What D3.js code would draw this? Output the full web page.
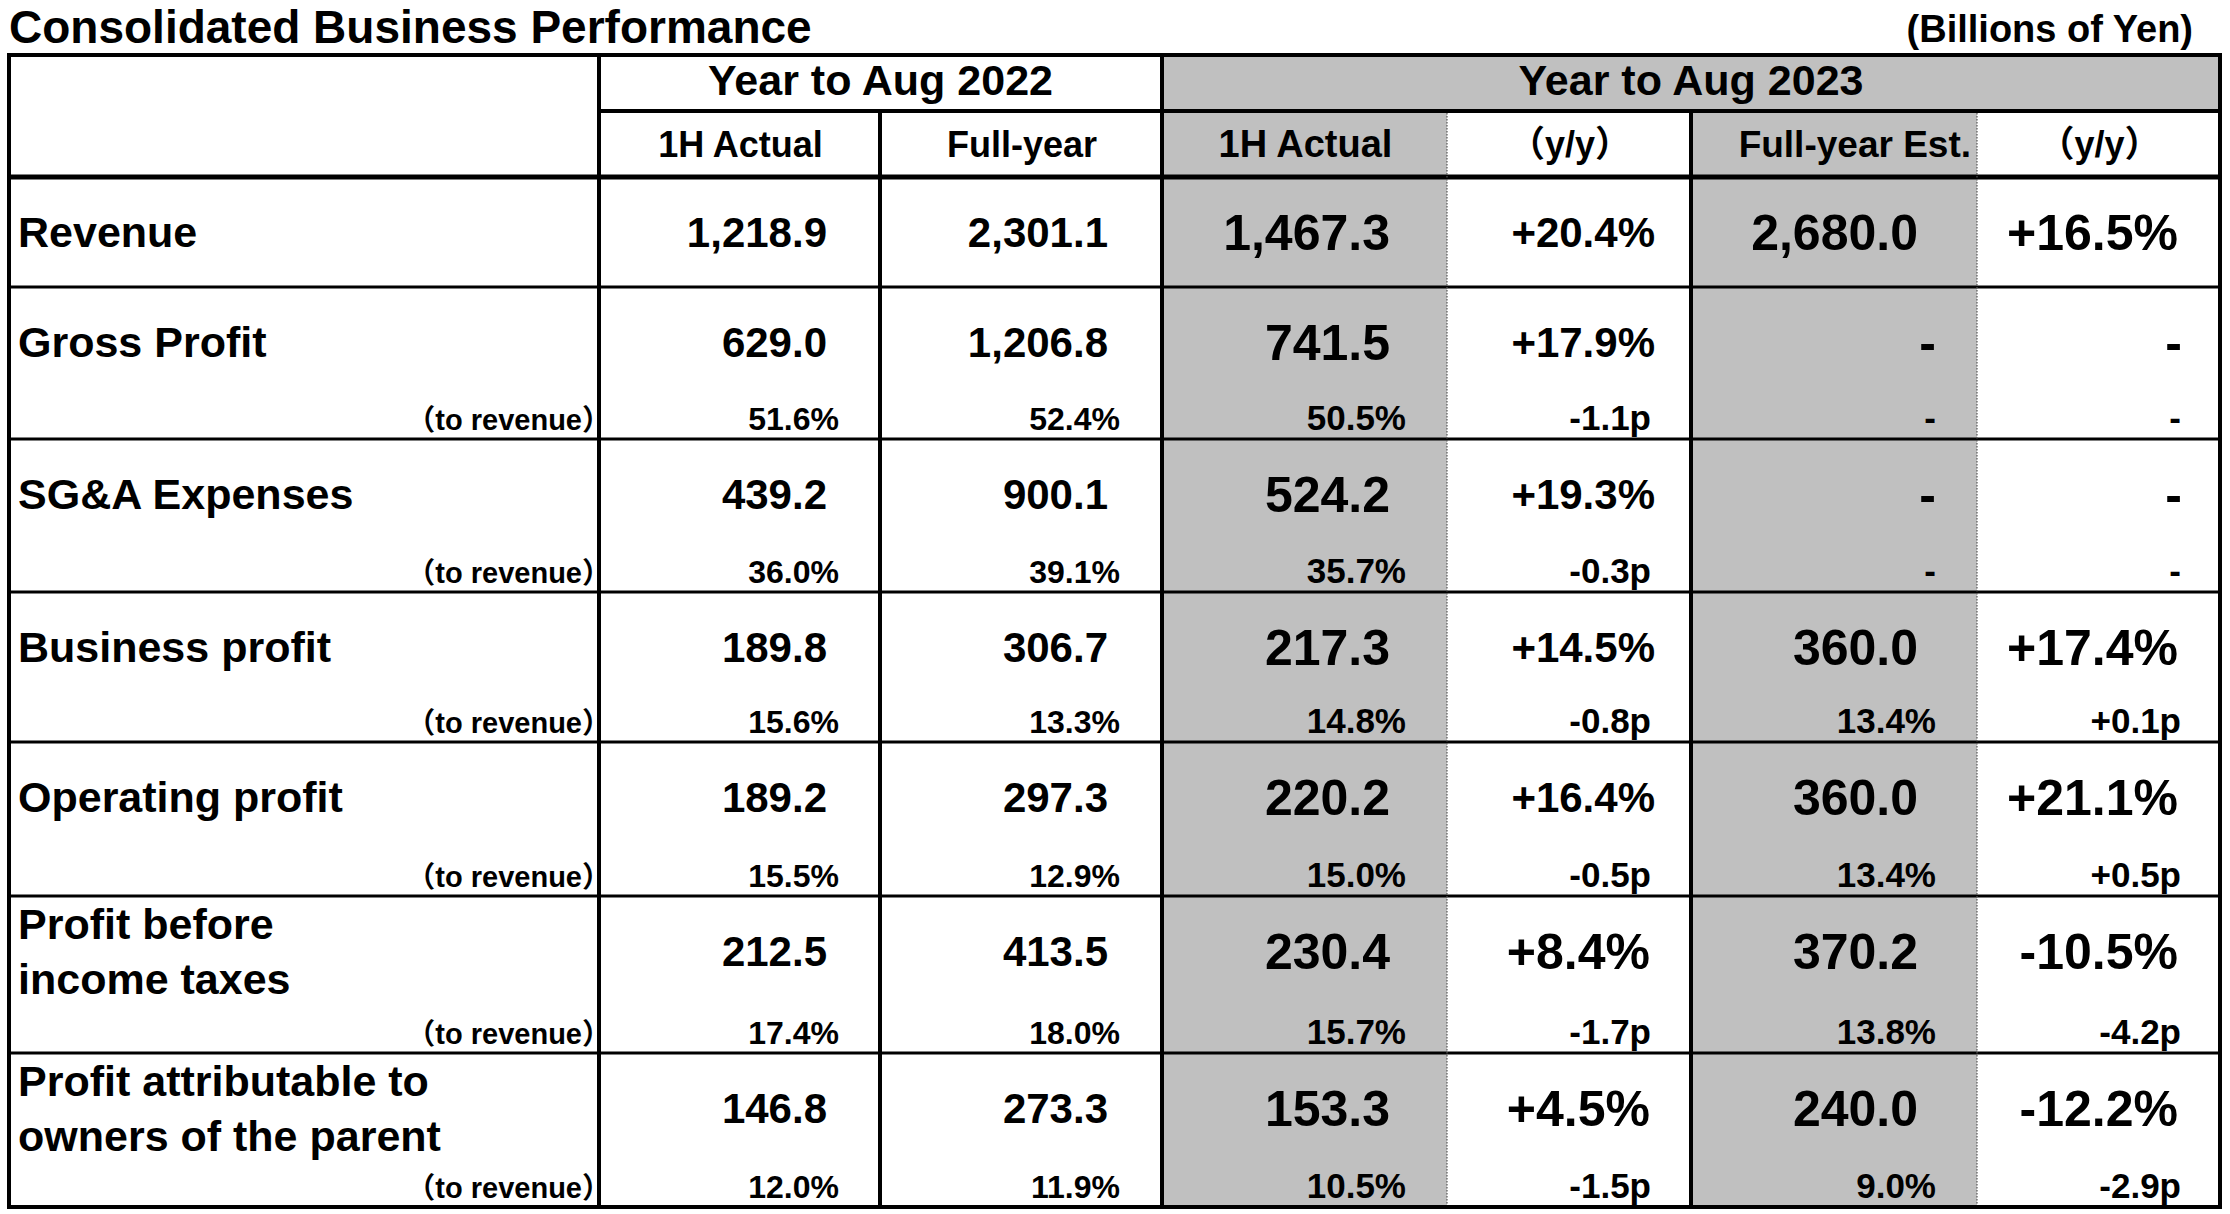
<!DOCTYPE html>
<html><head><meta charset="utf-8">
<script src="https://cdn.jsdelivr.net/npm/d3@7"></script>
<style>
body{margin:0;background:#fff}
svg{display:block}
text{font-family:"Liberation Sans",Arial,"Noto Sans CJK JP",sans-serif;font-weight:bold;fill:#000}
</style>
</head><body><svg id="c" width="2230" height="1214"></svg>
<script>
// ---------- data ----------
const title = "Consolidated Business Performance";
const unitLabel = "(Billions of Yen)";
const yearGroups = ["Year to Aug 2022", "Year to Aug 2023"];
const columnHeaders = ["1H Actual", "Full-year", "1H Actual", "（y/y）", "Full-year Est.", "（y/y）"];
const rowLabels = [["Revenue"], ["Gross Profit"], ["SG&A Expenses"], ["Business profit"], ["Operating profit"],
                   ["Profit before", "income taxes"], ["Profit attributable to", "owners of the parent"]];
const ratioLabel = "（to revenue）";

// amounts (billions of yen)
const h1Actual2022 = [1218.9, 629.0, 439.2, 189.8, 189.2, 212.5, 146.8];
const fullYear2022 = [2301.1, 1206.8, 900.1, 306.7, 297.3, 413.5, 273.3];
const h1Actual2023 = [1467.3, 741.5, 524.2, 217.3, 220.2, 230.4, 153.3];
const h1Yoy2023    = [0.204, 0.179, 0.193, 0.145, 0.164, 0.084, 0.045];
const fyEst2023    = [2680.0, null, null, 360.0, 360.0, 370.2, 240.0];
const fyYoy2023    = [0.165, null, null, 0.174, 0.211, -0.105, -0.122];

// ratios to revenue (row 0 has none)
const h1Ratio2022  = [null, 0.516, 0.360, 0.156, 0.155, 0.174, 0.120];
const fyRatio2022  = [null, 0.524, 0.391, 0.133, 0.129, 0.180, 0.119];
const h1Ratio2023  = [null, 0.505, 0.357, 0.148, 0.150, 0.157, 0.105];
const h1RatioChg   = [null, -1.1, -0.3, -0.8, -0.5, -1.7, -1.5];
const fyRatio2023  = [null, null, null, 0.134, 0.134, 0.138, 0.090];
const fyRatioChg   = [null, null, null, 0.1, 0.5, -4.2, -2.9];

// ---------- formatting ----------
const loc = d3.formatLocale({decimal: ".", thousands: ",", grouping: [3], currency: ["", ""], minus: "-"});
const fAmt = loc.format(",.1f"), fGrowth = loc.format("+.1%"), fPct = loc.format(".1%"), fPt = loc.format("+.1f");
const dash = v => v == null;
const mainCols = [
  {vals: h1Actual2022, fmt: fAmt},
  {vals: fullYear2022, fmt: fAmt},
  {vals: h1Actual2023, fmt: fAmt},
  {vals: h1Yoy2023, fmt: fGrowth},
  {vals: fyEst2023, fmt: fAmt},
  {vals: fyYoy2023, fmt: fGrowth}
];
const subCols = [
  {vals: h1Ratio2022, fmt: fPct},
  {vals: fyRatio2022, fmt: fPct},
  {vals: h1Ratio2023, fmt: fPct},
  {vals: h1RatioChg, fmt: v => fPt(v) + "p"},
  {vals: fyRatio2023, fmt: fPct},
  {vals: fyRatioChg, fmt: v => fPt(v) + "p"}
];

// ---------- layout ----------
const W = 2230, H = 1214;
const L = 9, R = 2220, T = 55, HM = 111, HB = 177;
const colEdges = [599, 880, 1162, 1447, 1691, 1977, R];
const rowEdges = [HB, 287, 439, 592, 742, 896, 1053, 1207];
const shaded = [2, 4];
const mainRight = d3.scaleOrdinal().domain(d3.range(6)).range([827, 1108, 1388, 1655, 1918, 2178]);
const bigRight  = d3.scaleOrdinal().domain(d3.range(6)).range([827, 1108, 1390, 1650, 1918, 2178]);
const dashRight = d3.scaleOrdinal().domain(d3.range(6)).range([827, 1108, 1390, 1650, 1936, 2182]);
const subRight  = d3.scaleOrdinal().domain(d3.range(6)).range([839, 1120, 1406, 1651, 1936, 2181]);
const isBig = (c, r) => c === 2 || c === 4 || c === 5 || (c === 3 && r >= 5);

const svg = d3.select("#c");
svg.append("rect").attr("width", W).attr("height", H).attr("fill", "#fff");

// shading
const gFill = svg.append("g");
gFill.append("rect").attr("x", colEdges[2]).attr("y", T).attr("width", R - colEdges[2]).attr("height", HM - T).attr("fill", "#c0c0c0");
gFill.selectAll("rect.col").data(shaded).join("rect").attr("class", "col")
  .attr("x", c => colEdges[c]).attr("y", HM)
  .attr("width", c => colEdges[c + 1] - colEdges[c]).attr("height", rowEdges[7] - HM)
  .attr("fill", "#c0c0c0");

// title and unit
svg.append("text").attr("x", 9).attr("y", 43).attr("font-size", 46).text(title);
svg.append("text").attr("x", 2193).attr("y", 42).attr("font-size", 38).attr("text-anchor", "end").text(unitLabel);

// header
const gH = svg.append("g");
gH.selectAll("text.yr").data(yearGroups).join("text").attr("class", "yr")
  .attr("x", (d, i) => i === 0 ? (colEdges[0] + colEdges[2]) / 2 : (colEdges[2] + R) / 2)
  .attr("y", 95).attr("font-size", 43).attr("text-anchor", "middle").text(d => d);
gH.selectAll("text.ch").data(columnHeaders).join("text").attr("class", "ch")
  .attr("x", (d, i) => i === 4 ? colEdges[5] - 6 : (colEdges[i] + colEdges[i + 1]) / 2 + 1)
  .attr("y", 157)
  .attr("font-size", (d, i) => i < 2 ? 36 : (i === 3 || i === 5) ? 36 : i === 4 ? 37 : 38)
  .attr("text-anchor", (d, i) => i === 4 ? "end" : "middle")
  .text(d => d);

// rows
const rows = rowLabels.map((lab, r) => {
  const top = rowEdges[r], bot = rowEdges[r + 1];
  const base = r === 0 ? (top + bot) / 2 + 15 : top + 70;
  return {r, lab, top, bot, base, subBase: bot - 9};
});

const gR = svg.append("g");
const rg = gR.selectAll("g.row").data(rows).join("g").attr("class", "row");

// row labels
rg.each(function(d) {
  const g = d3.select(this);
  const ys = d.lab.length === 1 ? [d.base] : [d.base - 27, d.base + 28];
  g.selectAll("text.lab").data(d.lab).join("text").attr("class", "lab")
    .attr("x", 18).attr("y", (t, i) => ys[i]).attr("font-size", 43).text(t => t);
  if (d.r > 0) {
    g.append("text").attr("x", 611).attr("y", d.subBase).attr("font-size", 29)
      .attr("text-anchor", "end").text(ratioLabel);
  }
});

// main values
rg.each(function(d) {
  const g = d3.select(this);
  const cells = mainCols.map((col, c) => ({c, v: col.vals[d.r], fmt: col.fmt}));
  g.selectAll("text.val").data(cells).join("text").attr("class", "val")
    .attr("x", e => dash(e.v) ? dashRight(e.c) : (isBig(e.c, d.r) ? bigRight(e.c) : mainRight(e.c)))
    .attr("y", e => isBig(e.c, d.r) ? d.base + 3 : d.base)
    .attr("font-size", e => isBig(e.c, d.r) ? 50 : 42)
    .attr("text-anchor", "end")
    .text(e => dash(e.v) ? "-" : e.fmt(e.v));
  if (d.r > 0) {
    const subs = subCols.map((col, c) => ({c, v: col.vals[d.r], fmt: col.fmt}));
    g.selectAll("text.sub").data(subs).join("text").attr("class", "sub")
      .attr("x", e => subRight(e.c))
      .attr("y", d.subBase)
      .attr("font-size", e => e.c < 2 ? 32 : 35)
      .attr("text-anchor", "end")
      .text(e => dash(e.v) ? "-" : e.fmt(e.v));
  }
});

// grid lines
const hLines = [
  {x1: L, x2: R, y: T, w: 4},
  {x1: colEdges[0], x2: R, y: HM, w: 4},
  {x1: L, x2: R, y: HB, w: 5},
  ...rowEdges.slice(1, 7).map(y => ({x1: L, x2: R, y, w: 3})),
  {x1: L, x2: R, y: rowEdges[7], w: 4}
];
const vLines = [
  {x: L, y1: T, y2: rowEdges[7], w: 4},
  {x: colEdges[0], y1: T, y2: rowEdges[7], w: 4},
  {x: colEdges[1], y1: HM, y2: rowEdges[7], w: 4},
  {x: colEdges[2], y1: T, y2: rowEdges[7], w: 4},
  {x: colEdges[4], y1: HM, y2: rowEdges[7], w: 4},
  {x: R, y1: T, y2: rowEdges[7], w: 4}
];
const dotted = [colEdges[3], colEdges[5]];
const gL = svg.append("g");
gL.selectAll("line.h").data(hLines).join("line").attr("class", "h")
  .attr("x1", d => d.x1 - 2).attr("x2", d => d.x2 + 2).attr("y1", d => d.y).attr("y2", d => d.y)
  .attr("stroke", "#000").attr("stroke-width", d => d.w);
gL.selectAll("line.v").data(vLines).join("line").attr("class", "v")
  .attr("x1", d => d.x).attr("x2", d => d.x).attr("y1", d => d.y1 - 2).attr("y2", d => d.y2 + 2)
  .attr("stroke", "#000").attr("stroke-width", d => d.w);
gL.selectAll("line.d").data(dotted).join("line").attr("class", "d")
  .attr("x1", d => d).attr("x2", d => d).attr("y1", HM + 2).attr("y2", rowEdges[7] - 2)
  .attr("stroke", "#555").attr("stroke-width", 1.2).attr("stroke-dasharray", "1.5,1.5");
</script>
</body></html>
